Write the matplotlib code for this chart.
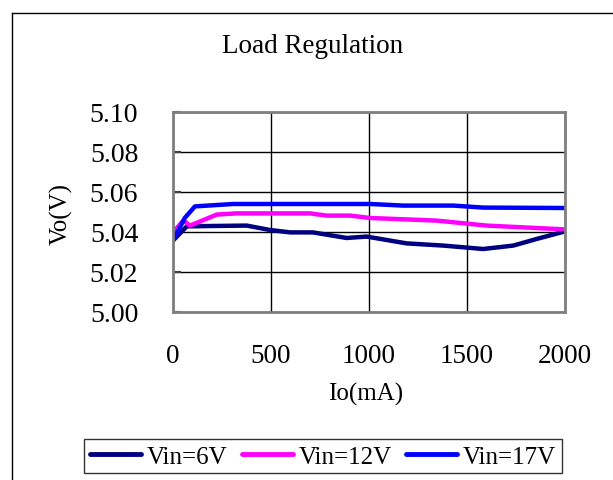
import matplotlib
matplotlib.use("Agg")
import matplotlib.pyplot as plt
from matplotlib.lines import Line2D

# ---- data ----
x_6v = [0, 70, 200, 376, 495, 597, 714, 886, 988, 1192, 1379, 1583, 1736, 1855, 2000]
y_6v = [5.0357, 5.0428, 5.0430, 5.0432, 5.0410, 5.0398, 5.0398, 5.0370, 5.0377, 5.0343, 5.0332, 5.0315, 5.0332, 5.0365, 5.0403]

x_12v = [0, 53, 87, 223, 325, 699, 784, 903, 1005, 1345, 1600, 2000]
y_12v = [5.0398, 5.0457, 5.0432, 5.0487, 5.0493, 5.0493, 5.0482, 5.0482, 5.0470, 5.0457, 5.0432, 5.0413]

x_17v = [0, 60, 112, 308, 1005, 1175, 1430, 1583, 2000]
y_17v = [5.0357, 5.0470, 5.0528, 5.0540, 5.0540, 5.0532, 5.0532, 5.0522, 5.0520]

labels = ["Vin=6V", "Vin=12V", "Vin=17V"]
colors = ["#000080", "#FF00FF", "#0000FF"]
x_ticks = [0, 500, 1000, 1500, 2000]
y_ticks = [5.00, 5.02, 5.04, 5.06, 5.08, 5.10]

FONT = "Liberation Serif"
plt.rcParams["font.family"] = [FONT, "DejaVu Serif"]

fig = plt.figure(figsize=(6.13, 4.81), dpi=100)
ax = fig.add_axes([0.2822, 0.3493, 0.6395, 0.4158])

series = [(x_6v, y_6v), (x_12v, y_12v), (x_17v, y_17v)]
for (xs, ys), lab, c in zip(series, labels, colors):
    ax.plot(xs, ys, color=c, lw=3.2, label=lab, solid_capstyle="round", solid_joinstyle="round")

ax.set_xlim(0, 2000)
ax.set_ylim(5.00, 5.10)
ax.set_xticks(x_ticks)
ax.set_xticklabels([str(v) for v in x_ticks])
ax.set_yticks(y_ticks)
ax.set_yticklabels([f"{v:.2f}" for v in y_ticks])
ax.grid(True, color="black", lw=1)
ax.set_axisbelow(True)
ax.tick_params(axis="y", direction="in", length=6, width=1.5, color="#404040",
               labelsize=20, pad=25)
ax.tick_params(axis="x", direction="in", length=0, labelsize=19.5, pad=22)
for s in ax.spines.values():
    s.set_color("#808080")
    s.set_linewidth(2)

fig.text(0.597, 0.1663, "Io(mA)", fontsize=18, ha="center", va="baseline")
fig.text(0.100, 1 - 214 / 481, "Vo(V)", rotation=90, fontsize=18, ha="center", va="center")
fig.text(0.5106, 0.8888, "Load Regulation", fontsize=19.5, ha="center", va="baseline")

# figure border (top and left edges visible)
fig.add_artist(Line2D([0.020, 1.0], [0.971, 0.971], transform=fig.transFigure, color="black", lw=1))
fig.add_artist(Line2D([0.020, 0.020], [0.0, 0.971], transform=fig.transFigure, color="black", lw=1))

leg = fig.legend(loc="center", bbox_to_anchor=(0.527, 0.0489), ncol=3, fontsize=18,
                 frameon=True, fancybox=False, handlelength=2.04, handletextpad=0.24,
                 columnspacing=0.56, borderpad=0.23, borderaxespad=0)
leg.get_frame().set_edgecolor("black")
leg.get_frame().set_linewidth(1)
for h in leg.get_lines():
    h.set_linewidth(3.5)

fig.savefig("out.png", dpi=100)
